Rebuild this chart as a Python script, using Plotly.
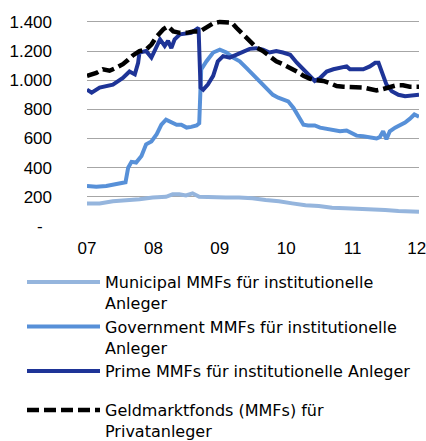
import plotly.graph_objects as go

# --- Data (Mrd USD), x in decimal years ---
muni_x = [2007.0, 2007.19, 2007.39, 2007.59, 2007.79, 2007.99, 2008.19, 2008.29, 2008.39, 2008.49, 2008.59,
          2008.69, 2008.89, 2009.09, 2009.29, 2009.49, 2009.69, 2009.89, 2010.09, 2010.29, 2010.49, 2010.69,
          2010.89, 2011.09, 2011.29, 2011.49, 2011.69, 2012.0]
muni_y = [155, 155, 170, 175, 183, 195, 200, 217, 217, 210, 224,
          200, 195, 195, 195, 190, 178, 170, 155, 142, 137, 125,
          121, 119, 114, 110, 103, 98]

gov_x = [2007.0, 2007.14, 2007.29, 2007.39, 2007.49, 2007.58, 2007.62, 2007.67, 2007.74, 2007.82, 2007.89,
         2007.97, 2008.05, 2008.12, 2008.19, 2008.27, 2008.35, 2008.42, 2008.50, 2008.57, 2008.65, 2008.69,
         2008.71, 2008.72, 2008.80, 2008.90, 2009.00, 2009.10, 2009.20, 2009.30, 2009.40, 2009.50, 2009.60,
         2009.70, 2009.80, 2009.88, 2009.95, 2010.03, 2010.11, 2010.18, 2010.26, 2010.33, 2010.43, 2010.51,
         2010.61, 2010.71, 2010.81, 2010.91, 2010.98, 2011.06, 2011.16, 2011.26, 2011.36, 2011.41, 2011.46,
         2011.51, 2011.56, 2011.64, 2011.71, 2011.79, 2011.86, 2011.93, 2012.0]
gov_y = [274, 270, 274, 285, 297, 300, 400, 440, 435, 480, 560,
         580, 630, 695, 730, 710, 695, 695, 675, 680, 690, 705,
         1030, 1075, 1130, 1190, 1210, 1190, 1155, 1130, 1085, 1040, 995,
         950, 900, 880, 870, 855, 810, 755, 695, 690, 690, 675,
         665, 655, 650, 655, 635, 620, 615, 610, 600, 610, 650,
         595, 650, 675, 690, 710, 735, 765, 750]

prime_x = [2007.0, 2007.07, 2007.19, 2007.39, 2007.54, 2007.64, 2007.72, 2007.77, 2007.79, 2007.89, 2007.97,
           2008.05, 2008.10, 2008.17, 2008.22, 2008.27, 2008.32, 2008.40, 2008.50, 2008.57, 2008.65, 2008.68,
           2008.71, 2008.75, 2008.82, 2008.90, 2008.97, 2009.05, 2009.15, 2009.25, 2009.35, 2009.45, 2009.55,
           2009.65, 2009.75, 2009.85, 2009.95, 2010.06, 2010.16, 2010.26, 2010.36, 2010.43, 2010.51, 2010.61,
           2010.71, 2010.81, 2010.91, 2010.96, 2011.06, 2011.16, 2011.26, 2011.34, 2011.39, 2011.44, 2011.51,
           2011.59, 2011.69, 2011.79, 2011.89, 2012.0]
prime_y = [936, 915, 950, 970, 1015, 1060, 1040, 1120, 1190, 1200, 1155,
           1235, 1280, 1235, 1270, 1220, 1280, 1315, 1325, 1325, 1350, 1360,
           950, 935, 970, 1030, 1130, 1165, 1155, 1175, 1200, 1215, 1220,
           1210, 1190, 1200, 1190, 1175, 1120, 1075, 1030, 995, 1015, 1060,
           1075, 1085, 1095, 1075, 1075, 1075, 1095, 1120, 1120, 1060, 970,
           925, 900, 890, 895, 900]

retail_x = [2007.0, 2007.14, 2007.24, 2007.34, 2007.44, 2007.54, 2007.62, 2007.69, 2007.79, 2007.89, 2007.97,
            2008.05, 2008.15, 2008.22, 2008.30, 2008.40, 2008.50, 2008.60, 2008.70, 2008.80, 2008.90, 2009.00,
            2009.10, 2009.18, 2009.25, 2009.35, 2009.45, 2009.55, 2009.65, 2009.75, 2009.85, 2009.95, 2010.06,
            2010.16, 2010.26, 2010.36, 2010.46, 2010.56, 2010.66, 2010.76, 2010.86, 2010.96, 2011.06, 2011.16,
            2011.26, 2011.36, 2011.46, 2011.56, 2011.66, 2011.76, 2011.86, 2012.0]
retail_y = [1030, 1050, 1075, 1065, 1085, 1110, 1140, 1170, 1200, 1210, 1245,
            1300, 1350, 1370, 1335, 1325, 1325, 1335, 1335, 1360, 1390, 1400,
            1400, 1395, 1360, 1315, 1270, 1225, 1200, 1165, 1130, 1110, 1085,
            1060, 1030, 1010, 1000, 995, 980, 960, 955, 955, 950, 950,
            940, 930, 940, 955, 965, 965, 955, 955]

names = ["Municipal MMFs für institutionelle<br>Anleger",
         "Government MMFs für institutionelle<br>Anleger",
         "Prime MMFs für institutionelle Anleger",
         "Geldmarktfonds (MMFs) für<br>Privatanleger"]

x_tickvals = [2007, 2008, 2009, 2010, 2011, 2012]
x_ticktext = ["07", "08", "09", "10", "11", "12\u00a0"]
y_tickvals = [0, 200, 400, 600, 800, 1000, 1200, 1400]
y_ticktext = ["-\u00a0\u00a0", "200", "400", "600", "800", "1.000", "1.200", "1.400"]

FONT = "Liberation Sans, Arial, sans-serif"
LEGEND_FONT = "DejaVu Sans, Liberation Sans, sans-serif"

fig = go.Figure()
fig.add_trace(go.Scatter(x=muni_x, y=muni_y, mode="lines", name=names[0], legendgroup="a",
                         line=dict(color="#95B5DD", width=4)))
fig.add_trace(go.Scatter(x=gov_x, y=gov_y, mode="lines", name=names[1], legendgroup="a",
                         line=dict(color="#5790D8", width=4)))
fig.add_trace(go.Scatter(x=prime_x, y=prime_y, mode="lines", name=names[2], legendgroup="a",
                         line=dict(color="#1E3497", width=4)))
fig.add_trace(go.Scatter(x=retail_x, y=retail_y, mode="lines", name=names[3], legendgroup="b",
                         line=dict(color="#000000", width=4.5, dash="12px,5px")))

W, H = 426, 441
plot_l, plot_r, plot_t, plot_b = 87, 419, 19, 226
pw, ph = plot_r - plot_l, plot_b - plot_t

fig.update_layout(
    width=W, height=H,
    margin=dict(l=plot_l, r=W - plot_r, t=plot_t, b=H - plot_b, autoexpand=False),
    paper_bgcolor="white", plot_bgcolor="white",
    font=dict(family=FONT, size=17, color="#000000"),
    showlegend=True,
    legend=dict(
        x=(22 - plot_l) / pw, y=(plot_b - 265) / ph, xanchor="left", yanchor="top",
        font=dict(family=LEGEND_FONT, size=16, color="#000000"),
        itemwidth=73, tracegroupgap=15, valign="top",
        bgcolor="rgba(0,0,0,0)", traceorder="grouped",
    ),
    xaxis=dict(
        range=[2007, 2012], tickvals=x_tickvals, ticktext=x_ticktext,
        showgrid=False, zeroline=False, showline=False, ticks="",
        tickfont=dict(size=17), ticklabelstandoff=10, ticklabeloverflow="allow",
    ),
    yaxis=dict(
        range=[0, 1420], tickvals=y_tickvals, ticktext=y_ticktext,
        showgrid=True, gridcolor="#A6A6A6", gridwidth=1,
        zeroline=False, showline=False, ticks="",
        ticklabelstandoff=34, tickfont=dict(size=17),
    ),
)

fig.write_html(
    "out.html",
    config={"displayModeBar": False},
    post_script="document.body.style.margin='0';document.body.style.overflow='hidden';",
)
